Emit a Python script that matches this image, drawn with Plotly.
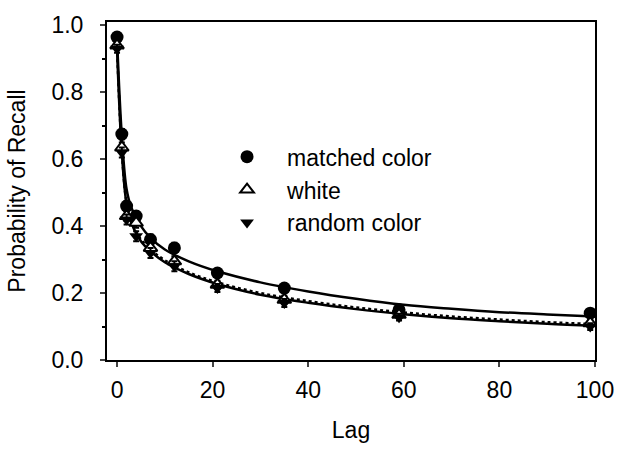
import plotly.graph_objects as go

# Observed data (lag vs probability of recall)
lags = [0, 1, 2, 4, 7, 12, 21, 35, 59, 99]
matched = [0.965, 0.675, 0.46, 0.43, 0.36, 0.335, 0.26, 0.215, 0.15, 0.14]
white = [0.94, 0.635, 0.43, 0.41, 0.335, 0.295, 0.225, 0.18, 0.135, 0.11]
random_c = [0.93, 0.62, 0.42, 0.37, 0.32, 0.28, 0.215, 0.17, 0.128, 0.10]
err = [0.012, 0.015, 0.015, 0.015, 0.015, 0.015, 0.012, 0.012, 0.01, 0.01]

# Fitted curves
fit_lags = [0, 1, 2, 3, 5, 7, 10, 15, 21, 30, 40, 50, 60, 70, 80, 90, 100]
fit_matched = [0.96, 0.67, 0.51, 0.455, 0.40, 0.365, 0.33, 0.295, 0.265, 0.232, 0.205, 0.183, 0.165, 0.153, 0.143, 0.136, 0.13]
fit_white = [0.935, 0.625, 0.47, 0.415, 0.36, 0.33, 0.298, 0.262, 0.232, 0.200, 0.176, 0.157, 0.142, 0.130, 0.121, 0.113, 0.107]
fit_random = [0.93, 0.62, 0.465, 0.41, 0.355, 0.325, 0.292, 0.257, 0.227, 0.195, 0.171, 0.152, 0.137, 0.125, 0.116, 0.108, 0.102]

x_ticks = [0, 20, 40, 60, 80, 100]
y_ticks = [0.0, 0.2, 0.4, 0.6, 0.8, 1.0]
y_tick_labels = ["0.0", "0.2", "0.4", "0.6", "0.8", "1.0"]

FONT = "Arial, Liberation Sans, sans-serif"

fig = go.Figure()

fig.add_trace(go.Scatter(x=fit_lags, y=fit_matched, mode="lines", line=dict(color="black", width=2.5, shape="spline"), showlegend=False, hoverinfo="skip"))
fig.add_trace(go.Scatter(x=fit_lags, y=fit_random, mode="lines", line=dict(color="black", width=2.5, shape="spline"), showlegend=False, hoverinfo="skip"))
fig.add_trace(go.Scatter(x=fit_lags, y=fit_white, mode="lines", line=dict(color="black", width=2.5, dash="dot", shape="spline"), showlegend=False, hoverinfo="skip"))

eb = dict(type="data", array=err, visible=True, color="black", thickness=2, width=3)

fig.add_trace(go.Scatter(x=lags, y=matched, mode="markers", name="matched color", error_y=eb,
                         marker=dict(symbol="circle", size=13, color="black"), legendgroup="a"))
fig.add_trace(go.Scatter(x=lags, y=white, mode="markers", name="white", error_y=eb,
                         marker=dict(symbol="triangle-up", size=12, color="white", line=dict(color="black", width=2)), legendgroup="b"))
fig.add_trace(go.Scatter(x=lags, y=random_c, mode="markers", name="random color", error_y=eb,
                         marker=dict(symbol="triangle-down", size=12, color="black"), legendgroup="c"))

fig.update_layout(
    width=632, height=453,
    margin=dict(l=107, r=37, t=15, b=93),
    paper_bgcolor="white", plot_bgcolor="white",
    font=dict(family=FONT, size=23, color="black"),
    legend=dict(x=0.205, y=0.665, xanchor="left", yanchor="top", bgcolor="rgba(0,0,0,0)",
                itemwidth=70, tracegroupgap=0, font=dict(size=23)),
    xaxis=dict(range=[-2.1, 100], tickvals=x_ticks, ticks="outside", ticklen=5, tickwidth=2,
               showline=True, linewidth=2, linecolor="black", mirror=True, showgrid=False, zeroline=False,
               ticklabelstandoff=3,
               title=dict(text="Lag", font=dict(size=23), standoff=20), tickfont=dict(size=23)),
    yaxis=dict(range=[0, 1.01], tickvals=y_ticks, ticktext=y_tick_labels, ticks="outside", ticklen=5, tickwidth=2,
               showline=True, linewidth=2, linecolor="black", mirror=True, showgrid=False, zeroline=False,
               ticklabelstandoff=12,
               title=dict(text="Probability of Recall", font=dict(size=23), standoff=19), tickfont=dict(size=23),
               minor=dict(dtick=0.1, ticks="outside", ticklen=3, tickwidth=1.5, tickcolor="black")),
)

fig.write_html("out.html")
